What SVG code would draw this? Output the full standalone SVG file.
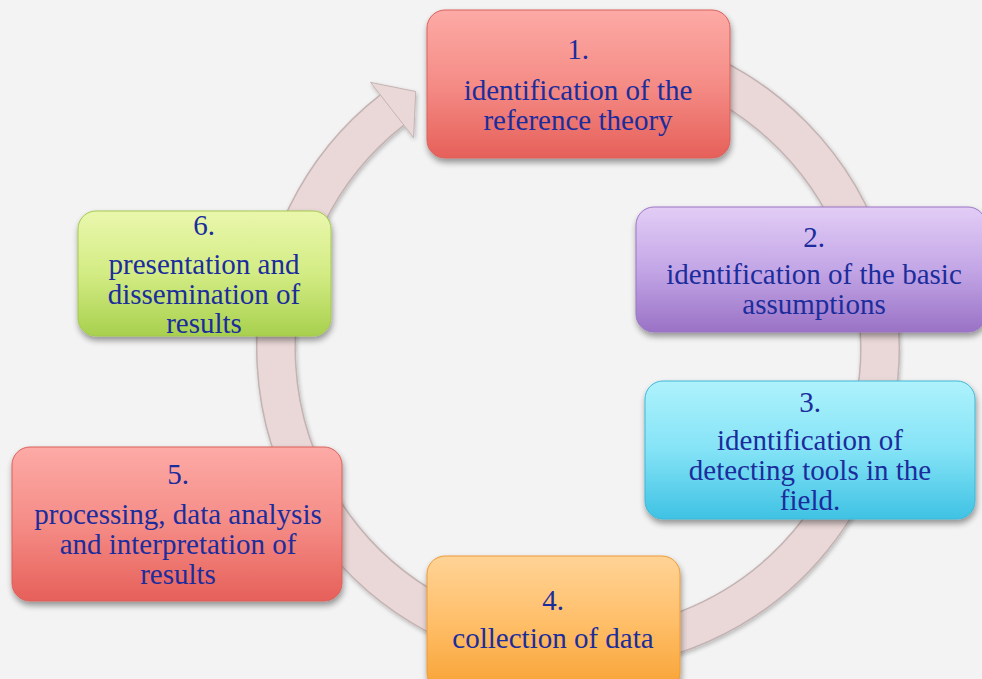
<svg xmlns="http://www.w3.org/2000/svg" width="982" height="679" viewBox="0 0 982 679">
<defs>
<style>
.t{font-family:"Liberation Serif","DejaVu Serif",serif;font-size:29px;fill:#1b2d9c;text-anchor:middle}
.box{filter:url(#sh);stroke-width:1}
</style>
<filter id="sh" x="-10%" y="-10%" width="125%" height="135%">
<feGaussianBlur in="SourceAlpha" stdDeviation="3"/>
<feOffset dx="1" dy="4" result="o"/>
<feComponentTransfer><feFuncA type="linear" slope="0.4"/></feComponentTransfer>
<feMerge><feMergeNode/><feMergeNode in="SourceGraphic"/></feMerge>
</filter>
<filter id="rs" x="-10%" y="-10%" width="120%" height="120%">
<feGaussianBlur in="SourceAlpha" stdDeviation="2"/>
<feOffset dx="1" dy="2"/>
<feComponentTransfer><feFuncA type="linear" slope="0.25"/></feComponentTransfer>
<feMerge><feMergeNode/><feMergeNode in="SourceGraphic"/></feMerge>
</filter>
<linearGradient id="gRed" x1="0" y1="0" x2="0" y2="1"><stop offset="0" stop-color="#fdaaa6"/><stop offset="0.5" stop-color="#f58c86"/><stop offset="1" stop-color="#e6605a"/></linearGradient>
<linearGradient id="gPur" x1="0" y1="0" x2="0" y2="1"><stop offset="0" stop-color="#e2cdf6"/><stop offset="0.5" stop-color="#c3a6e6"/><stop offset="1" stop-color="#9a72c6"/></linearGradient>
<linearGradient id="gCy" x1="0" y1="0" x2="0" y2="1"><stop offset="0" stop-color="#aef2fd"/><stop offset="0.5" stop-color="#84e3f6"/><stop offset="1" stop-color="#3fc2e4"/></linearGradient>
<linearGradient id="gOr" x1="0" y1="0" x2="0" y2="1"><stop offset="0" stop-color="#ffd396"/><stop offset="0.5" stop-color="#ffbe68"/><stop offset="1" stop-color="#f7a233"/></linearGradient>
<linearGradient id="gGr" x1="0" y1="0" x2="0" y2="1"><stop offset="0" stop-color="#eaf7ad"/><stop offset="0.5" stop-color="#d3ec84"/><stop offset="1" stop-color="#a8d04e"/></linearGradient>
</defs>
<rect width="982" height="679" fill="#f3f3f3"/>
<g id="connectors" filter="url(#rs)">
<path d="M525.6 50.6 A302 302 0 1 1 392.1 110" fill="none" stroke="#c4b3b3" stroke-width="40"/>
<path d="M525.6 50.6 A302 302 0 1 1 392.1 110" fill="none" stroke="#ead7d7" stroke-width="37"/>
<polygon points="370.6,82.4 415.7,91.5 413.6,137.6" fill="#ead7d7" stroke="#c4b3b3" stroke-width="1"/>
<path d="M392.7 110.8 L371.5 83.5 L413 137 Z" fill="#ead7d7"/>
</g>
<g id="node1">
<rect class="box" x="427" y="10" width="303" height="148" rx="18" fill="url(#gRed)" stroke="#d9615b"/>
<text class="t" x="578" y="59">1.</text>
<text class="t" x="578" y="100">identification of the</text>
<text class="t" x="578" y="130">reference theory</text>
</g>
<g id="node2">
<rect class="box" x="636" y="207" width="350" height="125" rx="18" fill="url(#gPur)" stroke="#9a75c4"/>
<text class="t" x="814" y="247">2.</text>
<text class="t" x="814" y="284">identification of the basic</text>
<text class="t" x="814" y="314">assumptions</text>
</g>
<g id="node3">
<rect class="box" x="645" y="381" width="330" height="138" rx="18" fill="url(#gCy)" stroke="#3fb8d6"/>
<text class="t" x="810" y="412">3.</text>
<text class="t" x="810" y="450">identification of</text>
<text class="t" x="810" y="480">detecting tools in the</text>
<text class="t" x="810" y="510">field.</text>
</g>
<g id="node4">
<rect class="box" x="427" y="556" width="253" height="135" rx="18" fill="url(#gOr)" stroke="#eb9a36"/>
<text class="t" x="553" y="610">4.</text>
<text class="t" x="553" y="648">collection of data</text>
</g>
<g id="node5">
<rect class="box" x="12" y="447" width="330" height="154" rx="18" fill="url(#gRed)" stroke="#d9615b"/>
<text class="t" x="178" y="484">5.</text>
<text class="t" x="178" y="524">processing, data analysis</text>
<text class="t" x="178" y="554">and interpretation of</text>
<text class="t" x="178" y="584">results</text>
</g>
<g id="node6">
<rect class="box" x="78" y="211" width="253" height="125" rx="18" fill="url(#gGr)" stroke="#a3c94f"/>
<text class="t" x="204" y="235">6.</text>
<text class="t" x="204" y="274">presentation and</text>
<text class="t" x="204" y="304">dissemination of</text>
<text class="t" x="204" y="333">results</text>
</g>
</svg>
